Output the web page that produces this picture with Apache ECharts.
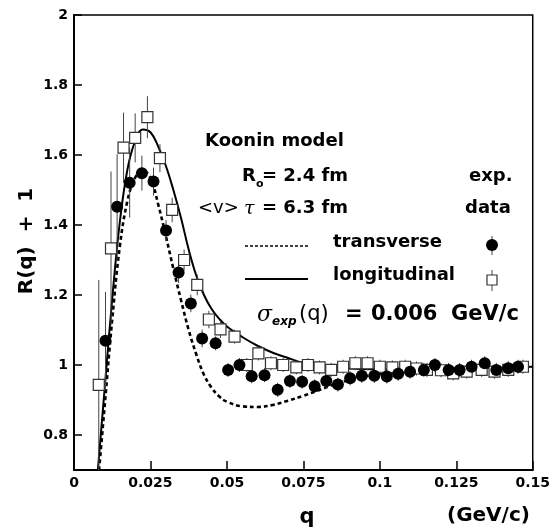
<!DOCTYPE html>
<html>
<head>
<meta charset="utf-8">
<script src="https://cdn.jsdelivr.net/npm/echarts@6/dist/echarts.min.js"></script>
<style>html,body{margin:0;padding:0;background:#fff}#c{width:553px;height:531px}</style>
</head>
<body>
<div id="c"></div>
<script>
// ---- tick labels ----
const xTickValues = [0, 0.025, 0.05, 0.075, 0.1, 0.125, 0.15];
const xTickLabels = ['0', '0.025', '0.05', '0.075', '0.1', '0.125', '0.15'];
const yTickValues = [0.8, 1, 1.2, 1.4, 1.6, 1.8, 2];
const yTickLabels = ['0.8', '1', '1.2', '1.4', '1.6', '1.8', '2'];

// ---- transverse data (filled circles) ----
const transQ = [0.0103,0.0141,0.0182,0.0222,0.0260,0.0301,0.0342,0.0382,0.0419,0.0463,0.0504,0.0541,0.0581,0.0623,0.0666,0.0706,0.0746,0.0787,0.0825,0.0863,0.0903,0.0941,0.0982,0.1023,0.1060,0.1099,0.1144,0.1180,0.1225,0.1261,0.1300,0.1343,0.1381,0.1420,0.1452];
const transR = [1.069,1.452,1.521,1.548,1.524,1.384,1.264,1.176,1.076,1.062,0.986,1.000,0.968,0.971,0.929,0.954,0.952,0.939,0.954,0.944,0.962,0.969,0.969,0.967,0.975,0.981,0.986,1.000,0.986,0.986,0.995,1.005,0.986,0.991,0.995];
const transErr = [0.14,0.15,0.10,0.05,0.04,0.03,0.03,0.025,0.025,0.02,0.02,0.02,0.02,0.02,0.02,0.02,0.02,0.02,0.02,0.02,0.02,0.02,0.02,0.02,0.02,0.02,0.02,0.02,0.02,0.02,0.02,0.02,0.02,0.02,0.02];

// ---- longitudinal data (open squares) ----
const longQ = [0.0081,0.0121,0.0162,0.0200,0.0240,0.0281,0.0321,0.0360,0.0403,0.0441,0.0479,0.0525,0.0565,0.0603,0.0644,0.0684,0.0727,0.0765,0.0803,0.0841,0.0880,0.0920,0.0960,0.1000,0.1041,0.1083,0.1120,0.1154,0.1200,0.1240,0.1284,0.1333,0.1375,0.1420,0.1468];
const longR = [0.943,1.333,1.621,1.649,1.708,1.591,1.443,1.300,1.229,1.130,1.102,1.081,1.000,1.033,1.005,1.000,0.993,1.000,0.993,0.986,0.995,1.005,1.005,0.995,0.993,0.995,0.990,0.986,0.985,0.976,0.981,0.986,0.981,0.986,0.995];
const longErr = [0.30,0.22,0.10,0.07,0.06,0.04,0.035,0.03,0.03,0.025,0.025,0.02,0.02,0.02,0.02,0.02,0.02,0.02,0.02,0.02,0.02,0.02,0.02,0.02,0.02,0.02,0.02,0.02,0.02,0.02,0.02,0.02,0.02,0.02,0.02];

// ---- Koonin model curves ----
const transCurveQ = [0.0082,0.010,0.0125,0.015,0.0175,0.020,0.0225,0.025,0.0275,0.030,0.0325,0.035,0.0375,0.040,0.0425,0.045,0.0475,0.050,0.055,0.060,0.065,0.070,0.075,0.080,0.085,0.090,0.095,0.100,0.110,0.125,0.150];
const transCurveR = [0.70,0.88,1.13,1.34,1.47,1.535,1.555,1.535,1.46,1.37,1.275,1.185,1.10,1.03,0.972,0.935,0.91,0.895,0.882,0.88,0.886,0.898,0.912,0.928,0.944,0.957,0.967,0.974,0.983,0.99,0.995];
const longCurveQ = [0.0078,0.010,0.0125,0.015,0.0175,0.020,0.0225,0.025,0.0275,0.030,0.0325,0.035,0.0375,0.040,0.0425,0.045,0.0475,0.050,0.055,0.060,0.065,0.070,0.075,0.080,0.090,0.100,0.110,0.125,0.150];
const longCurveR = [0.70,0.93,1.19,1.41,1.56,1.64,1.673,1.665,1.625,1.57,1.50,1.42,1.33,1.255,1.20,1.16,1.132,1.11,1.08,1.055,1.035,1.02,1.006,0.997,0.99,0.988,0.988,0.99,0.995];

const zip = (a, b, c) => a.map((v, i) => c ? [v, b[i], c[i]] : [v, b[i]]);

const FONT = 'DejaVu Sans';
const errRender = function (params, api) {
  const x = api.value(0), y = api.value(1), e = api.value(2);
  const t = api.coord([x, y + e]);
  const b = api.coord([x, y - e]);
  return { type: 'line', shape: { x1: t[0], y1: t[1], x2: b[0], y2: b[1] },
           style: { stroke: '#444', lineWidth: 1 } };
};

const chart = echarts.init(document.getElementById('c'), null, { renderer: 'canvas' });

function txt(x, y, text, size, opts) {
  opts = opts || {};
  return { type: 'text', x: x, y: y, silent: true, z: 100,
    style: { text: text, fontFamily: opts.family || FONT, fontSize: size,
      fontWeight: opts.weight || 'bold', fontStyle: opts.style || 'normal',
      fill: '#000', textAlign: opts.align || 'left', textVerticalAlign: 'middle' },
    rotation: opts.rotation || 0 };
}

const option = {
  backgroundColor: '#fff',
  animation: false,
  grid: { left: 74, right: 16, top: 15, bottom: 61, show: true, borderColor: '#000', borderWidth: 1.5, backgroundColor: 'transparent' },
  xAxis: {
    type: 'value', min: 0, max: 0.15, interval: 0.025,
    axisLine: { show: true, onZero: false, lineStyle: { color: '#000', width: 2 } },
    axisTick: { show: true, inside: true, length: 9, lineStyle: { color: '#000', width: 1.5 } },
    axisLabel: { color: '#000', fontFamily: FONT, fontWeight: 'bold', fontSize: 14, margin: 6,
      formatter: v => { const i = xTickValues.findIndex(t => Math.abs(t - v) < 1e-9); return i >= 0 ? xTickLabels[i] : ''; } },
    splitLine: { show: false }
  },
  yAxis: {
    type: 'value', min: 0.7, max: 2,
    axisLine: { show: true, onZero: false, lineStyle: { color: '#000', width: 2 } },
    axisTick: { show: true, inside: true, length: 8, customValues: yTickValues, lineStyle: { color: '#000', width: 1.5 } },
    axisLabel: { color: '#000', fontFamily: FONT, fontWeight: 'bold', fontSize: 14, margin: 6, customValues: yTickValues,
      formatter: v => { const i = yTickValues.findIndex(t => Math.abs(t - v) < 1e-9); return i >= 0 ? yTickLabels[i] : ''; } },
    splitLine: { show: false }
  },
  series: [
    { type: 'line', name: 'transverse model', data: zip(transCurveQ, transCurveR), showSymbol: false, smooth: 0.4,
      lineStyle: { color: '#000', width: 2.6, type: [4, 3] }, z: 3, clip: true },
    { type: 'line', name: 'longitudinal model', data: zip(longCurveQ, longCurveR), showSymbol: false, smooth: 0.4,
      lineStyle: { color: '#000', width: 2 }, z: 3, clip: true },
    { type: 'custom', name: 'trans err', data: zip(transQ, transR, transErr), renderItem: errRender, clip: true, z: 4 },
    { type: 'custom', name: 'long err', data: zip(longQ, longR, longErr), renderItem: errRender, clip: true, z: 4 },
    { type: 'scatter', name: 'longitudinal', data: zip(longQ, longR), symbol: 'rect', symbolSize: 11,
      itemStyle: { color: '#fff', borderColor: '#333', borderWidth: 1.2, opacity: 1 }, z: 5, clip: true },
    { type: 'scatter', name: 'transverse', data: zip(transQ, transR), symbol: 'circle', symbolSize: 12,
      itemStyle: { color: '#000', opacity: 1 }, z: 6, clip: true }
  ],
  graphic: [
    // axis titles
    txt(27, 241, 'R(q)  +  1', 20, { rotation: Math.PI / 2, align: 'center' }),
    txt(307, 518, 'q', 21, { align: 'center' }),
    txt(447, 516, '(GeV/c)', 20),
    // annotation block
    txt(205, 141, 'Koonin model', 18),
    txt(242, 176, 'R', 18),
    txt(256, 184, 'o', 11),
    txt(262, 176, '= 2.4 fm', 18),
    txt(469, 176, 'exp.', 18),
    txt(198, 208, '<v>', 18, { weight: 'normal' }),
    txt(244, 209, 'τ', 19, { weight: 'normal', style: 'italic', family: 'DejaVu Serif' }),
    txt(262, 208, '= 6.3 fm', 18),
    txt(465, 208, 'data', 18),
    { type: 'line', shape: { x1: 245, y1: 246, x2: 308, y2: 246 }, style: { stroke: '#000', lineWidth: 1.6, lineDash: [3, 2] }, z: 100 },
    txt(333, 242, 'transverse', 18),
    { type: 'line', shape: { x1: 492, y1: 236, x2: 492, y2: 255 }, style: { stroke: '#444', lineWidth: 1 }, z: 100 },
    { type: 'circle', shape: { cx: 492, cy: 245, r: 6 }, style: { fill: '#000' }, z: 101 },
    { type: 'line', shape: { x1: 245, y1: 279, x2: 308, y2: 279 }, style: { stroke: '#000', lineWidth: 2 }, z: 100 },
    txt(333, 275, 'longitudinal', 18),
    { type: 'line', shape: { x1: 492, y1: 270, x2: 492, y2: 291 }, style: { stroke: '#444', lineWidth: 1 }, z: 100 },
    { type: 'rect', shape: { x: 487, y: 275, width: 10, height: 10 }, style: { fill: '#fff', stroke: '#333', lineWidth: 1.2 }, z: 101 },
    txt(257, 315, 'σ', 22, { weight: 'normal', style: 'italic', family: 'DejaVu Serif' }),
    txt(272, 322, 'exp', 12, { style: 'italic' }),
    txt(299, 315, '(q)', 21, { weight: 'normal' }),
    txt(345, 315, '=', 21),
    txt(371, 315, '0.006', 21),
    txt(451, 315, 'GeV/c', 21)
  ]
};
chart.setOption(option);
</script>
</body>
</html>
